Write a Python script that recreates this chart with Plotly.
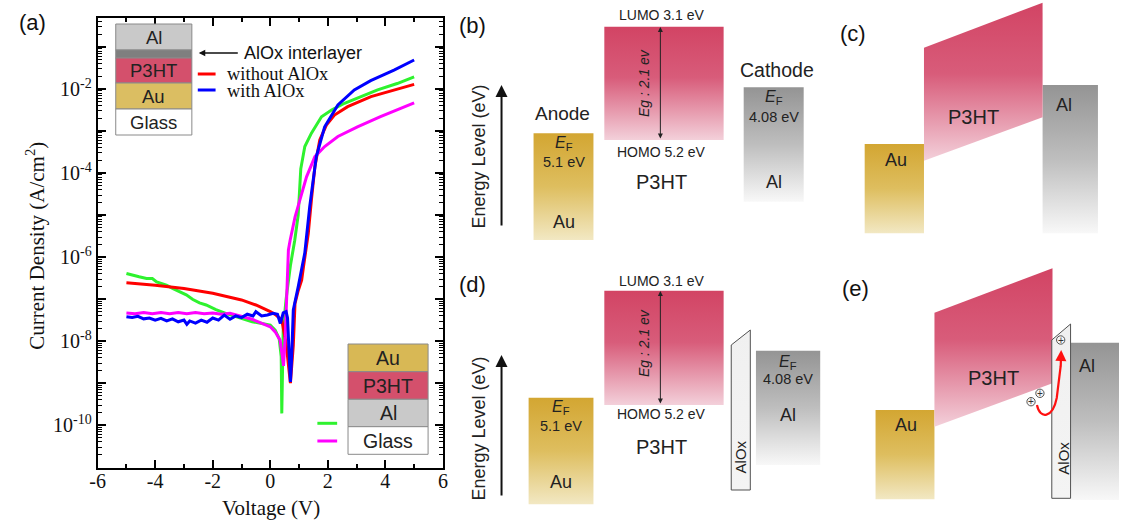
import plotly.graph_objects as go

W, H = 1124, 522

# ---------------- Panel (a) data: voltage (V) and log10(current density) ----------------
v_red = [-5.0, -4.0, -3.0, -2.0, -1.0, -0.5, 0.0, 0.2, 0.4, 0.55, 0.65, 0.70, 0.80, 0.86, 0.97,
         1.09, 1.15, 1.20, 1.32, 1.43, 1.55, 1.72, 1.95, 2.23, 2.69, 3.50, 4.30, 5.0]
lj_red = [-6.61, -6.67, -6.75, -6.86, -7.02, -7.14, -7.30, -7.38, -7.50, -8.05, -8.69, -9.00, -8.10, -7.10, -6.80,
          -6.55, -6.25, -5.99, -5.44, -4.64, -3.85, -3.21, -2.86, -2.62, -2.42, -2.18, -2.02, -1.89]

v_blue = [-5.0, -4.8, -4.6, -4.4, -4.2, -4.0, -3.8, -3.6, -3.4, -3.2, -3.0, -2.9, -2.8, -2.6, -2.4,
          -2.2, -2.0, -1.8, -1.6, -1.4, -1.2, -1.0, -0.8, -0.6, -0.5, -0.3, -0.1, 0.1, 0.25, 0.35,
          0.45, 0.55, 0.60, 0.65, 0.70, 0.74, 0.80, 0.97, 1.09, 1.20, 1.37, 1.60, 1.89, 2.35, 2.92,
          3.49, 4.30, 5.0]
lj_blue = [-7.42, -7.44, -7.41, -7.47, -7.45, -7.50, -7.46, -7.52, -7.47, -7.54, -7.50, -7.60, -7.52, -7.57, -7.50,
           -7.55, -7.45, -7.50, -7.38, -7.48, -7.40, -7.44, -7.36, -7.40, -7.30, -7.40, -7.38, -7.34, -7.36, -7.58,
           -7.33, -7.30, -7.45, -8.30, -8.97, -8.45, -7.26, -6.71, -6.31, -5.90, -4.80, -3.61, -2.90, -2.38, -2.02,
           -1.80, -1.55, -1.31]

v_mag = [-5.0, -4.7, -4.4, -4.1, -3.8, -3.5, -3.2, -2.9, -2.6, -2.3, -2.0, -1.7, -1.4, -1.09, -0.63,
         -0.29, 0.0, 0.17, 0.34, 0.42, 0.46, 0.52, 0.63, 0.69, 0.75, 0.86, 1.03, 1.26, 1.55, 1.89,
         2.35, 3.03, 3.83, 5.0]
lj_mag = [-7.33, -7.35, -7.32, -7.35, -7.32, -7.35, -7.32, -7.35, -7.32, -7.35, -7.33, -7.36, -7.34, -7.40, -7.48,
          -7.58, -7.66, -7.78, -7.98, -8.37, -8.59, -7.90, -5.83, -5.60, -5.40, -5.05, -4.64, -4.09, -3.61, -3.37,
          -3.13, -2.90, -2.66, -2.33]

v_green = [-5.0, -4.8, -4.56, -4.3, -4.1, -3.95, -3.61, -3.38, -3.15, -2.92, -2.69, -2.46, -2.23, -1.89, -1.55,
           -1.09, -0.63, -0.29, 0.0, 0.17, 0.31, 0.38, 0.40, 0.45, 0.55, 0.70, 0.85, 0.97, 1.00, 1.03,
           1.06, 1.20, 1.43, 1.78, 2.13, 2.58, 3.15, 3.73, 4.41, 5.0]
lj_green = [-6.39, -6.43, -6.47, -6.51, -6.51, -6.59, -6.67, -6.75, -6.83, -6.90, -7.01, -7.09, -7.14, -7.25, -7.34,
            -7.44, -7.54, -7.58, -7.62, -7.74, -7.94, -8.37, -9.72, -7.70, -7.00, -6.20, -5.60, -5.00, -4.60, -4.10,
            -3.90, -3.37, -3.05, -2.66, -2.50, -2.34, -2.18, -2.02, -1.87, -1.71]

x_tickvals = [-6, -4, -2, 0, 2, 4, 6]
x_ticktext = ["-6", "-4", "-2", "0", "2", "4", "6"]
y_exponents = list(range(-11, 0))

# ---------------- schematic geometry (pixel space of the figure) ----------------
# rectangles: x0, y0, x1, y1
au_b = [531.7, 133.3, 592.3, 240.0]
p3ht_b = [603.3, 26.7, 724.0, 140.0]
al_b = [744.3, 87.3, 805.0, 201.7]
au_d = [526.7, 397.7, 592.3, 504.3]
p3ht_d = [603.3, 290.7, 724.0, 405.0]
al_d = [756.7, 350.7, 821.7, 465.0]
alox_d_x = [731.7, 731.7, 751.0, 751.0]
alox_d_y = [490.0, 345.0, 330.0, 490.0]
au_c = [866.7, 144.0, 926.7, 233.3]
p3ht_c_x = [926.7, 1046.7, 1046.7, 926.7]
p3ht_c_y = [47.7, 2.7, 117.3, 160.7]
al_c = [1046.7, 85.0, 1102.7, 233.3]
au_e = [877.7, 410.0, 937.3, 499.3]
p3ht_e_x = [937.3, 1056.7, 1056.7, 937.3]
p3ht_e_y = [312.7, 268.3, 383.3, 426.7]
alox_e_x = [1056.0, 1056.0, 1075.0, 1075.0]
alox_e_y = [498.3, 340.0, 324.0, 498.3]
al_e = [1075.0, 342.7, 1124.0, 500.0]

# gradient colour scales: 0 = bottom of shape, 1 = top of shape
GOLD = [[0, "rgb(242,232,195)"], [0.5, "rgb(222,190,95)"], [1, "rgb(211,166,50)"]]
ROSE = [[0, "rgb(243,208,218)"], [0.55, "rgb(216,92,122)"], [1, "rgb(210,68,100)"]]
GREY = [[0, "rgb(248,248,248)"], [0.5, "rgb(190,190,190)"], [1, "rgb(148,148,148)"]]
PALE = [[0, "rgb(244,244,244)"], [1, "rgb(240,240,240)"]]

SANS = "Liberation Sans, Arial, sans-serif"
SERIF = "Liberation Serif, Times New Roman, serif"

fig = go.Figure()

# ---- panel (a) curves
for vv, lj, col in [(v_green, lj_green, "#2EF22E"), (v_red, lj_red, "#FF0000"),
                    (v_mag, lj_mag, "#FF00FF"), (v_blue, lj_blue, "#0000FF")]:
    fig.add_trace(go.Scatter(x=vv, y=[10 ** e for e in lj], mode="lines",
                             line=dict(color=col, width=3), xaxis="x", yaxis="y",
                             hoverinfo="skip", showlegend=False))


def poly(xs, ys, scale, line_color="rgba(0,0,0,0)", lw=0):
    fig.add_trace(go.Scatter(x=list(xs) + [xs[0]], y=list(ys) + [ys[0]], mode="lines",
                             fill="toself", line=dict(width=lw, color=line_color),
                             fillgradient=dict(type="vertical", colorscale=scale),
                             xaxis="x2", yaxis="y2", hoverinfo="skip", showlegend=False))


def rect(r, scale):
    x0, y0, x1, y1 = r
    poly([x0, x1, x1, x0], [y0, y0, y1, y1], scale)


for r, s in [(au_b, GOLD), (p3ht_b, ROSE), (al_b, GREY), (au_d, GOLD), (p3ht_d, ROSE), (al_d, GREY),
             (au_c, GOLD), (al_c, GREY), (au_e, GOLD), (al_e, GREY)]:
    rect(r, s)
poly(p3ht_c_x, p3ht_c_y, ROSE)
poly(p3ht_e_x, p3ht_e_y, ROSE)
poly(alox_d_x, alox_d_y, PALE, "rgb(80,80,80)", 1)
poly(alox_e_x, alox_e_y, PALE, "rgb(80,80,80)", 1)

shapes = []
# layer stacks in panel (a)
stack_top = [("Al", "#C9C9C9", 24, 50), ("", "#7F7F7F", 50, 58), ("P3HT", "#D4506C", 58, 83),
             ("Au", "#DBBE62", 83, 109), ("Glass", "#FFFFFF", 109, 135)]
stack_bot = [("Au", "#D8B855", 344, 371.7), ("P3HT", "#D4506C", 371.7, 399.3),
             ("Al", "#C9C9C9", 399.3, 426.7), ("Glass", "#FFFFFF", 426.7, 454.3)]
ann = []


def T(x, y, text, size=17, font=SANS, angle=0, xanchor="center", color="#222"):
    ann.append(dict(x=x, y=y, xref="x2", yref="y2", text=text, showarrow=False, textangle=angle,
                    xanchor=xanchor, yanchor="middle", font=dict(family=font, size=size, color=color)))


for lbl, col, y0, y1 in stack_top:
    shapes.append(dict(type="rect", xref="x2", yref="y2", x0=109, x1=186, y0=y0, y1=y1,
                       fillcolor=col, line=dict(color="#8A8A8A", width=1)))
    if lbl:
        T(147.5, (y0 + y1) / 2, lbl, 18.5)
for lbl, col, y0, y1 in stack_bot:
    shapes.append(dict(type="rect", xref="x2", yref="y2", x0=344, x1=425, y0=y0, y1=y1,
                       fillcolor=col, line=dict(color="#8A8A8A", width=1)))
    T(384.5, (y0 + y1) / 2, lbl, 19.5)

for x0, x1, y, col in [(192, 210, 74, "#FF0000"), (192, 210, 90, "#0000FF"),
                       (313, 333, 423.3, "#2EF22E"), (313, 333, 441, "#FF00FF")]:
    shapes.append(dict(type="line", xref="x2", yref="y2", x0=x0, x1=x1, y0=y, y1=y,
                       line=dict(color=col, width=3)))

T(220, 74, "without AlOx", 18.5, SERIF, xanchor="left", color="#111")
T(220, 91, "with AlOx", 18.5, SERIF, xanchor="left", color="#111")
T(237, 53, "AlOx interlayer", 18, xanchor="left", color="#111")
ann.append(dict(x=193, y=53, ax=234, ay=53, xref="x2", yref="y2", axref="x2", ayref="y2",
                showarrow=True, arrowhead=2, arrowsize=1, arrowwidth=1.3, arrowcolor="#111", text=""))

T(25, 22, "(a)", 22, color="#111")
T(27, 246, "Current Density (A/cm<sup>2</sup>)", 21, SERIF, angle=-90, color="#111")
T(266, 508, "Voltage (V)", 21, SERIF, color="#111")

# ---- panel (b)
T(470, 25, "(b)", 22, color="#111")
T(477, 156, "Energy Level (eV)", 18, angle=-90)
ann.append(dict(x=499.3, y=85, ax=499.3, ay=227, xref="x2", yref="y2", axref="x2", ayref="y2",
                showarrow=True, arrowhead=2, arrowsize=1.2, arrowwidth=2, arrowcolor="#111", text=""))
T(561, 113, "Anode", 19)
T(562, 143, "<i>E</i><sub>F</sub>", 16)
T(562, 162, "5.1 eV", 14.5)
T(562, 222, "Au", 18)
T(661, 15, "LUMO 3.1 eV", 14)
T(661, 152, "HOMO 5.2 eV", 14)
T(661, 182, "P3HT", 20)
T(643.5, 83, "<i>Eg : 2.1 ev</i>", 14, angle=-90)
ann.append(dict(x=660, y=27, ax=660, ay=140, xref="x2", yref="y2", axref="x2", ayref="y2",
                showarrow=True, arrowhead=2, startarrowhead=2, arrowside="end+start", arrowsize=1,
                arrowwidth=1, arrowcolor="#222", text=""))
T(778, 70, "Cathode", 19.5)
T(775, 97, "<i>E</i><sub>F</sub>", 16)
T(775, 117, "4.08 eV", 14.5)
T(775, 182, "Al", 18)

# ---- panel (d)
T(470, 284, "(d)", 22, color="#111")
T(477, 428, "Energy Level (eV)", 18, angle=-90)
ann.append(dict(x=499.3, y=355, ax=499.3, ay=497, xref="x2", yref="y2", axref="x2", ayref="y2",
                showarrow=True, arrowhead=2, arrowsize=1.2, arrowwidth=2, arrowcolor="#111", text=""))
T(559, 407, "<i>E</i><sub>F</sub>", 16)
T(559, 426, "5.1 eV", 14.5)
T(559, 482, "Au", 18)
T(661, 281, "LUMO 3.1 eV", 14)
T(661, 414, "HOMO 5.2 eV", 14)
T(661, 447, "P3HT", 20)
T(643.5, 343, "<i>Eg : 2.1 ev</i>", 14, angle=-90)
ann.append(dict(x=660, y=291, ax=660, ay=405, xref="x2", yref="y2", axref="x2", ayref="y2",
                showarrow=True, arrowhead=2, startarrowhead=2, arrowside="end+start", arrowsize=1,
                arrowwidth=1, arrowcolor="#222", text=""))
T(741, 457, "AlOx", 15, angle=-90)
T(789, 362, "<i>E</i><sub>F</sub>", 16)
T(789, 379, "4.08 eV", 14.5)
T(789, 415, "Al", 18)

# ---- panel (c)
T(855, 33, "(c)", 22, color="#111")
T(898, 160, "Au", 18)
T(977, 117, "P3HT", 20)
T(1068, 105, "Al", 18)

# ---- panel (e)
T(857, 288, "(e)", 22, color="#111")
T(908, 425, "Au", 18)
T(997, 378, "P3HT", 20)
T(1067, 458, "AlOx", 15, angle=-90)
T(1092, 366, "Al", 18)
shapes.append(dict(type="path", xref="x2", yref="y2",
                   path="M 1041,405 C 1044,420 1057,418 1061,398 L 1065,366",
                   line=dict(color="#FF1010", width=2.2)))
ann.append(dict(x=1065.5, y=350, ax=1065, ay=368, xref="x2", yref="y2", axref="x2", ayref="y2",
                showarrow=True, arrowhead=2, arrowsize=1, arrowwidth=2.2, arrowcolor="#FF1010", text=""))
for cx, cy in [(1065, 340), (1044, 393.3), (1035, 401.7)]:
    shapes.append(dict(type="circle", xref="x2", yref="y2", x0=cx - 4.2, x1=cx + 4.2, y0=cy - 4.2,
                       y1=cy + 4.2, fillcolor="#F4F4F4", line=dict(color="#555", width=1)))
    T(cx, cy, "+", 10, color="#333")

minor_y = [m * 10 ** k for k in y_exponents for m in range(2, 10)]

fig.update_layout(
    width=W, height=H, autosize=False, margin=dict(l=0, r=0, t=0, b=0),
    paper_bgcolor="white", plot_bgcolor="rgba(0,0,0,0)", showlegend=False,
    shapes=shapes, annotations=ann,
    xaxis=dict(domain=[90.7 / W, 440 / W], range=[-6, 6], anchor="y", showgrid=False, zeroline=False,
               showline=True, linecolor="black", linewidth=2, mirror="allticks",
               ticks="inside", ticklen=8, tickwidth=1.5, tickcolor="black",
               tickvals=x_tickvals, ticktext=x_ticktext, ticklabelstandoff=-6,
               tickfont=dict(family=SERIF, size=20, color="#111"),
               minor=dict(ticks="inside", ticklen=4, tickwidth=1.5, tickcolor="black", dtick=1, tick0=-6)),
    yaxis=dict(domain=[1 - 468 / H, 1 - 18 / H], type="log", range=[-11.02, -0.31], anchor="x",
               showgrid=False, zeroline=False, showline=True, linecolor="black", linewidth=2,
               mirror="allticks", ticks="inside", ticklen=8, tickwidth=1.5, tickcolor="black",
               tickvals=[10 ** k for k in y_exponents],
               ticktext=["10<sup>%d</sup>" % k if k % 2 == 0 else "" for k in y_exponents],
               tickfont=dict(family=SERIF, size=20, color="#111"),
               minor=dict(ticks="inside", ticklen=4, tickwidth=1, tickcolor="black",
                          tickmode="array", tickvals=minor_y)),
    xaxis2=dict(domain=[0, 1], range=[0, W], anchor="y2", visible=False, fixedrange=True),
    yaxis2=dict(domain=[0, 1], range=[H, 0], anchor="x2", visible=False, fixedrange=True),
)

fig.write_html("out.html")
